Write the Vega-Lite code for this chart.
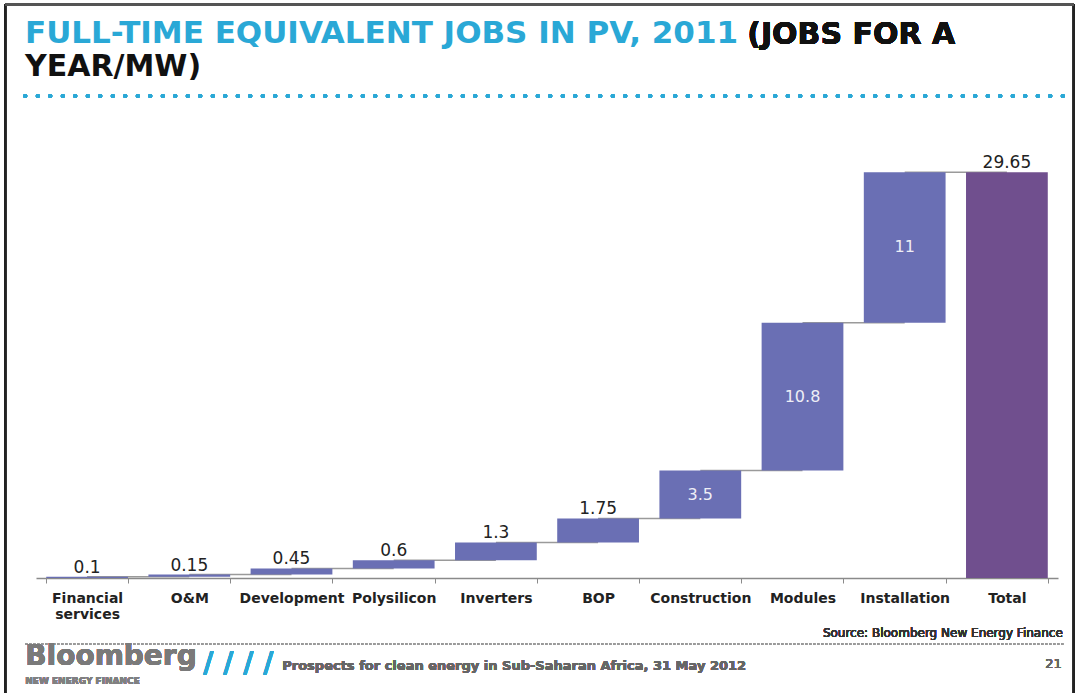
{
  "$schema": "https://vega.github.io/schema/vega-lite/v6.json",
  "width": 1022,
  "height": 438,
  "autosize": {"type": "none"},
  "padding": {"left": 36, "top": 140, "right": 20, "bottom": 115},
  "background": "white",
  "config": {"view": {"stroke": null}, "font": "DejaVu Sans"},
  "title": {
    "text": "FULL-TIME EQUIVALENT JOBS IN PV, 2011",
    "subtitle": "YEAR/MW)",
    "anchor": "start",
    "frame": "group",
    "dx": -11,
    "offset": -80,
    "font": "DejaVu Sans",
    "fontSize": 31,
    "fontWeight": "bold",
    "color": "#2AA8D6",
    "subtitleFont": "DejaVu Sans",
    "subtitleFontSize": 30,
    "subtitleFontWeight": "bold",
    "subtitleColor": "#111111",
    "subtitleLineHeight": 32,
    "subtitlePadding": 2
  },
  "data": {
    "values": [
      {"category": "Financial services", "value": 0.1, "start": 0, "end": 0.1, "type": "step", "next": "O&M"},
      {"category": "O&M", "value": 0.15, "start": 0.1, "end": 0.25, "type": "step", "next": "Development"},
      {"category": "Development", "value": 0.45, "start": 0.25, "end": 0.7, "type": "step", "next": "Polysilicon"},
      {"category": "Polysilicon", "value": 0.6, "start": 0.7, "end": 1.3, "type": "step", "next": "Inverters"},
      {"category": "Inverters", "value": 1.3, "start": 1.3, "end": 2.6, "type": "step", "next": "BOP"},
      {"category": "BOP", "value": 1.75, "start": 2.6, "end": 4.35, "type": "step", "next": "Construction"},
      {"category": "Construction", "value": 3.5, "start": 4.35, "end": 7.85, "type": "step", "next": "Modules"},
      {"category": "Modules", "value": 10.8, "start": 7.85, "end": 18.65, "type": "step", "next": "Installation"},
      {"category": "Installation", "value": 11, "start": 18.65, "end": 29.65, "type": "step", "next": "Total"},
      {"category": "Total", "value": 29.65, "start": 0, "end": 29.65, "type": "total", "next": null}
    ]
  },
  "encoding": {
    "x": {
      "field": "category",
      "type": "nominal",
      "sort": null,
      "scale": {"paddingInner": 0.2, "paddingOuter": 0.1},
      "axis": {
        "title": null,
        "tickBand": "extent",
        "domainColor": "#8a8a8a",
        "domainWidth": 1.5,
        "tickColor": "#8a8a8a",
        "tickSize": 5,
        "labelAngle": 0,
        "labelFont": "DejaVu Sans",
        "labelFontSize": 14,
        "labelFontWeight": "bold",
        "labelColor": "#222222",
        "labelPadding": 8,
        "labelLineHeight": 16,
        "labelExpr": "datum.value == 'Financial services' ? ['Financial', 'services'] : datum.value"
      }
    }
  },
  "layer": [
    {
      "transform": [{"filter": "datum.next != null"}],
      "mark": {"type": "rule", "color": "#9a9a9a", "strokeWidth": 1.5},
      "encoding": {
        "y": {"field": "end", "type": "quantitative", "scale": {"domain": [0, 32], "nice": false, "zero": true}, "axis": null},
        "x2": {"field": "next"}
      }
    },
    {
      "mark": {"type": "bar"},
      "encoding": {
        "y": {"field": "start", "type": "quantitative"},
        "y2": {"field": "end"},
        "color": {"field": "type", "type": "nominal", "scale": {"domain": ["step", "total"], "range": ["#6A6FB4", "#704F8E"]}, "legend": null}
      }
    },
    {
      "transform": [{"filter": "datum.value < 3 || datum.type == 'total'"}],
      "mark": {"type": "text", "baseline": "middle", "dy": -9, "fontSize": 17, "color": "#222222", "font": "DejaVu Sans"},
      "encoding": {
        "y": {"field": "end", "type": "quantitative"},
        "text": {"field": "value", "type": "quantitative"}
      }
    },
    {
      "transform": [
        {"filter": "datum.value >= 3 && datum.type != 'total'"},
        {"calculate": "(datum.start + datum.end) / 2", "as": "mid"}
      ],
      "mark": {"type": "text", "baseline": "middle", "fontSize": 16, "color": "#EEEEF6", "font": "DejaVu Sans"},
      "encoding": {
        "y": {"field": "mid", "type": "quantitative"},
        "text": {"field": "value", "type": "quantitative"}
      }
    },
    {
      "mark": {"type": "text", "align": "left", "baseline": "alphabetic", "dx": 701, "fontSize": 30, "fontWeight": "bold", "color": "#111111", "font": "DejaVu Sans"},
      "encoding": {
        "x": {"datum": "Financial services", "bandPosition": 0},
        "y": {"datum": 39.0},
        "text": {"value": "(JOBS FOR A"}
      }
    },
    {
      "mark": {"type": "rule", "color": "#2AA8D6", "strokeWidth": 4, "strokeCap": "round", "strokeDash": [0.1, 12.4], "xOffset": -21, "x2Offset": 58},
      "encoding": {
        "x": {"datum": "Financial services", "bandPosition": 0},
        "x2": {"datum": "Total"},
        "y": {"datum": 35.21}
      }
    },
    {
      "mark": {"type": "rule", "color": "#9a9a9a", "strokeWidth": 2, "strokeDash": [2, 2], "xOffset": -21, "x2Offset": 58},
      "encoding": {
        "x": {"datum": "Financial services", "bandPosition": 0},
        "x2": {"datum": "Total"},
        "y": {"datum": -4.82}
      }
    },
    {
      "mark": {"type": "text", "align": "right", "baseline": "alphabetic", "dx": 15, "fontSize": 12, "color": "#333333", "font": "DejaVu Sans"},
      "encoding": {
        "x": {"datum": "Total", "bandPosition": 1},
        "y": {"datum": -4.31},
        "text": {"value": "Source: Bloomberg New Energy Finance"}
      }
    },
    {
      "mark": {"type": "text", "align": "left", "baseline": "alphabetic", "dx": -21, "fontSize": 28, "fontWeight": "bold", "color": "#7A7A7A", "font": "DejaVu Sans"},
      "encoding": {
        "x": {"datum": "Financial services", "bandPosition": 0},
        "y": {"datum": -6.36},
        "text": {"value": "Bloomberg"}
      }
    },
    {
      "mark": {"type": "text", "align": "left", "baseline": "alphabetic", "dx": -21, "fontSize": 9, "fontWeight": "bold", "color": "#808080", "font": "DejaVu Sans"},
      "encoding": {
        "x": {"datum": "Financial services", "bandPosition": 0},
        "y": {"datum": -7.74},
        "text": {"value": "NEW ENERGY FINANCE"}
      }
    },
    {
      "mark": {"type": "text", "align": "left", "baseline": "middle", "dx": 157, "fontSize": 28, "fontWeight": "bold", "color": "#2AA8D6", "font": "DejaVu Sans"},
      "encoding": {
        "x": {"datum": "Financial services", "bandPosition": 0},
        "y": {"datum": -6.28},
        "text": {"value": "/ / / /"}
      }
    },
    {
      "mark": {"type": "text", "align": "left", "baseline": "alphabetic", "dx": 236, "fontSize": 13, "fontWeight": "bold", "color": "#666666", "font": "DejaVu Sans"},
      "encoding": {
        "x": {"datum": "Financial services", "bandPosition": 0},
        "y": {"datum": -6.72},
        "text": {"value": "Prospects for clean energy in Sub-Saharan Africa, 31 May 2012"}
      }
    },
    {
      "mark": {"type": "text", "align": "right", "baseline": "alphabetic", "dx": 14, "fontSize": 13, "color": "#666666", "font": "DejaVu Sans"},
      "encoding": {
        "x": {"datum": "Total", "bandPosition": 1},
        "y": {"datum": -6.6},
        "text": {"value": "21"}
      }
    },
    {
      "mark": {"type": "rule", "color": "#222222", "strokeWidth": 2, "xOffset": -41},
      "encoding": {
        "x": {"datum": "Financial services", "bandPosition": 0},
        "y": {"datum": 41.9},
        "y2": {"datum": -8.5}
      }
    },
    {
      "mark": {"type": "rule", "color": "#222222", "strokeWidth": 2, "xOffset": 26},
      "encoding": {
        "x": {"datum": "Total", "bandPosition": 1},
        "y": {"datum": 41.9},
        "y2": {"datum": -8.5}
      }
    },
    {
      "mark": {"type": "rule", "color": "#555555", "strokeWidth": 2, "xOffset": -41, "x2Offset": 67},
      "encoding": {
        "x": {"datum": "Financial services", "bandPosition": 0},
        "x2": {"datum": "Total"},
        "y": {"datum": 41.9}
      }
    }
  ]
}
